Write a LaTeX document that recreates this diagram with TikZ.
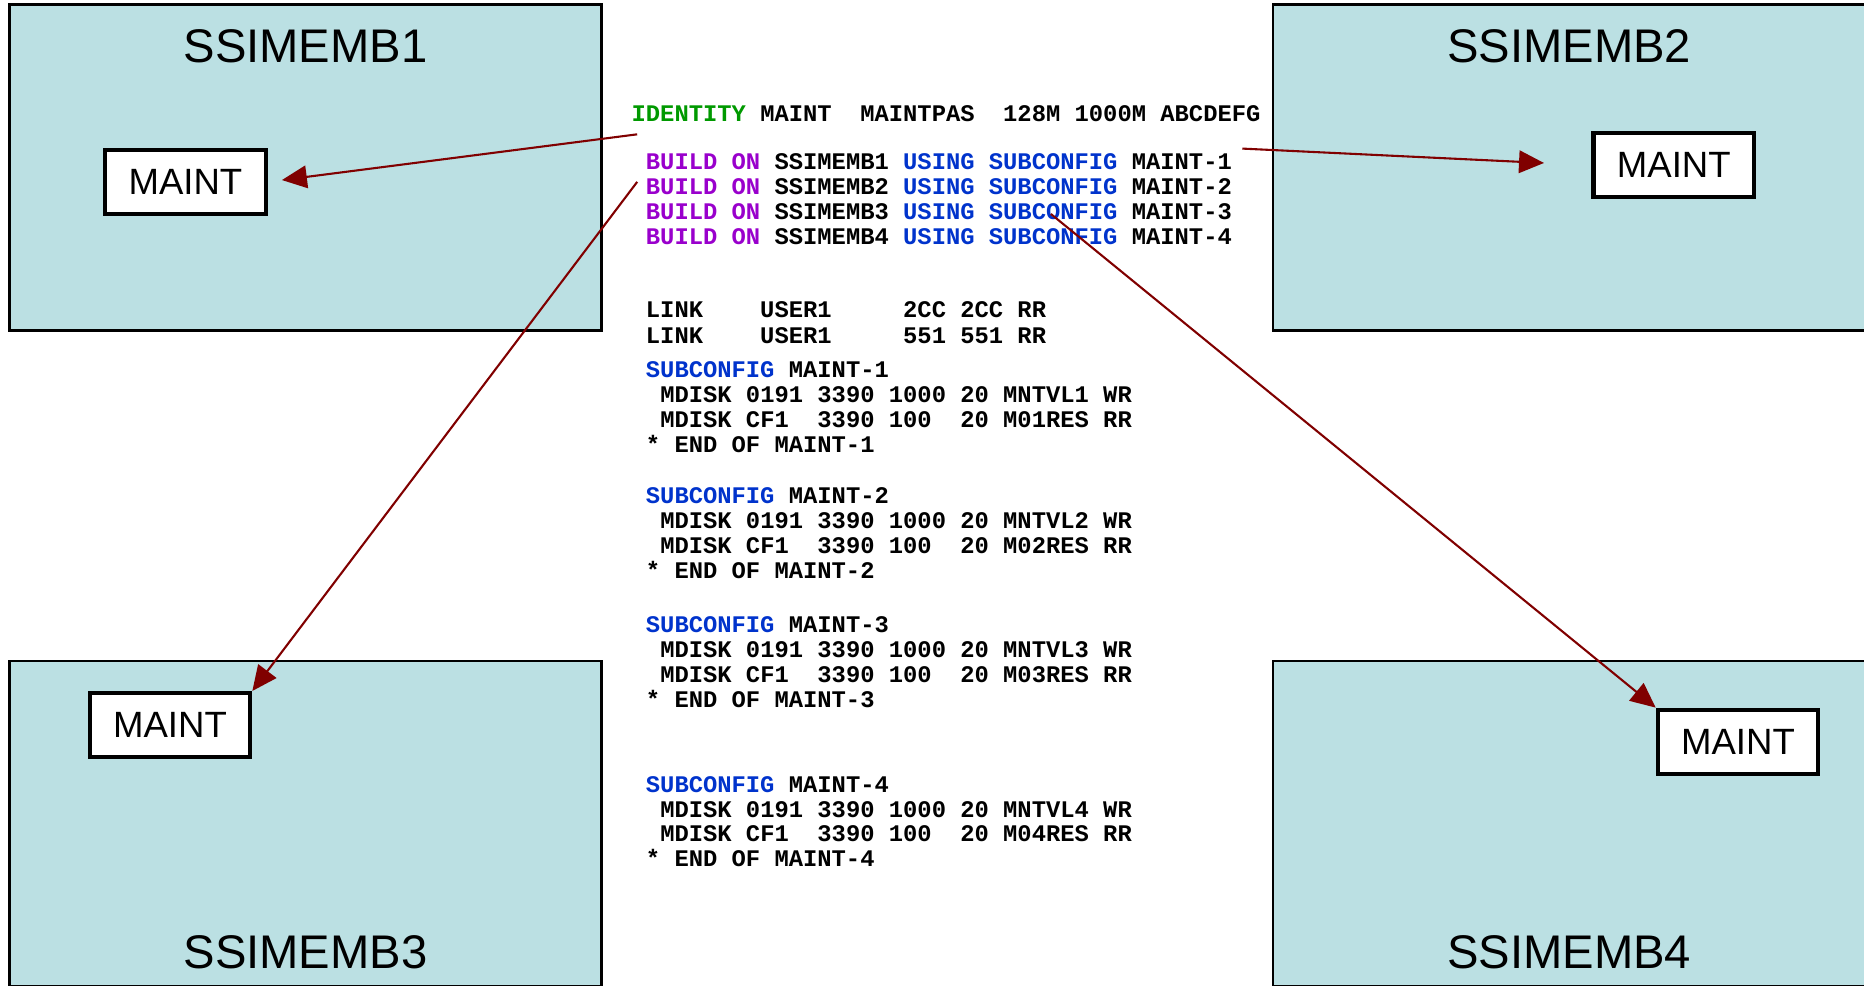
\documentclass[tikz,border=0pt]{standalone}
\usepackage{fontspec}
\setmainfont{Liberation Sans}
\newfontfamily\codefont{Liberation Mono}
\usepackage{tikz}
\usetikzlibrary{positioning}
\usetikzlibrary{arrows.meta}

\definecolor{memberfill}{RGB}{187,224,227}
\definecolor{arrowred}{RGB}{128,0,0}
\definecolor{idgreen}{RGB}{0,153,0}
\definecolor{buildpurple}{RGB}{153,0,204}
\definecolor{subblue}{RGB}{0,51,204}

\newcommand{\kwid}[1]{\textcolor{idgreen}{#1}}
\newcommand{\kwbuild}[1]{\textcolor{buildpurple}{#1}}
\newcommand{\kwsub}[1]{\textcolor{subblue}{#1}}

\begin{document}
\begin{tikzpicture}[
		member/.style={draw, line width=1.2pt, fill=memberfill, minimum width=9.96cm, minimum height=5.48cm, inner sep=0pt},
		memberlabel/.style={inner sep=0pt, font=\fontsize{22.6}{26}\selectfont},
		acct/.style={draw, line width=2pt, fill=white, minimum width=2.7cm, minimum height=1.08cm, inner sep=0pt, font=\fontsize{17.5}{20}\selectfont},
		codeline/.style={anchor=west, inner sep=0pt, text height=0.6em, text depth=0pt, font=\codefont\bfseries\fontsize{11.4}{12}\selectfont},
		assign/.style={draw=arrowred, line width=1pt, -{Triangle[length=0.42cm,width=0.38cm]}}
	]
		\useasboundingbox (0,0) rectangle (31.36,16.572);
		
		% the four members of the cluster
		\node at (5.14,13.752) [member] (mb1) {};
		\node at (26.40,13.752) [member] (mb2) {};
		\node at (5.14,2.712) [member] (mb3) {};
		\node at (26.40,2.712) [member] (mb4) {};
		
		\node [below=0.43cm of mb1.north, memberlabel] (mb1name) {SSIMEMB1};
		\node [below=0.43cm of mb2.north, memberlabel] (mb2name) {SSIMEMB2};
		\node [above=0.31cm of mb3.south, memberlabel] (mb3name) {SSIMEMB3};
		\node [above=0.31cm of mb4.south, memberlabel] (mb4name) {SSIMEMB4};
		
		\node at (3.12,13.512) [acct] (maint1) {MAINT};
		\node at (28.16,13.792) [acct] (maint2) {MAINT};
		\node at (2.86,4.372) [acct] (maint3) {MAINT};
		\node at (29.24,4.092) [acct] (maint4) {MAINT};
		
		% the directory entry, one node per line
		\node at (10.62,14.632) [codeline] (ident) {\kwid{IDENTITY} MAINT~~MAINTPAS~~128M 1000M ABCDEFG};
		
		\foreach \n/\y in {1/13.832, 2/13.412, 3/12.992, 4/12.572}
			\node at (10.86,\y) [codeline] (build\n) {\kwbuild{BUILD ON} SSIMEMB\n{} \kwsub{USING SUBCONFIG} MAINT-\n};
		
		\node at (10.86,11.332) [codeline] (link1) {LINK~~~~USER1~~~~~2CC 2CC RR};
		\node at (10.86,10.892) [codeline] (link2) {LINK~~~~USER1~~~~~551 551 RR};
		
		\foreach \n/\y in {1/10.332, 2/8.212, 3/6.032, 4/3.352} {
			\node at (10.86,\y) [codeline] (sub\n) {\kwsub{SUBCONFIG} MAINT-\n};
			\node at ([shift={(0.241,-0.42)}]sub\n.west) [codeline] (diska\n) {MDISK 0191 3390 1000 20 MNTVL\n{} WR};
			\node at ([yshift=-0.42cm]diska\n.west) [codeline] (diskb\n) {MDISK CF1~~3390 100~~20 M0\n{}RES RR};
			\node at ([shift={(-0.241,-0.42)}]diskb\n.west) [codeline] (end\n) {* END OF MAINT-\n};
		}
		
		% where the arrows leave the text
		\coordinate (from1) at (10.72,14.312);
		\coordinate (from2) at (20.90,14.072);
		\coordinate (from3) at (10.72,13.512);
		\coordinate (from4) at (17.68,12.972);
		
		\draw [assign, shorten >=0.24cm] (from1) -- (maint1.east);
		\draw [assign, shorten >=0.8cm] (from2) -- (maint2.west);
		\draw [assign] (from3) -- (maint3.north east);
		\draw [assign] (from4) -- (maint4.north west);
		
\end{tikzpicture}
\end{document}
